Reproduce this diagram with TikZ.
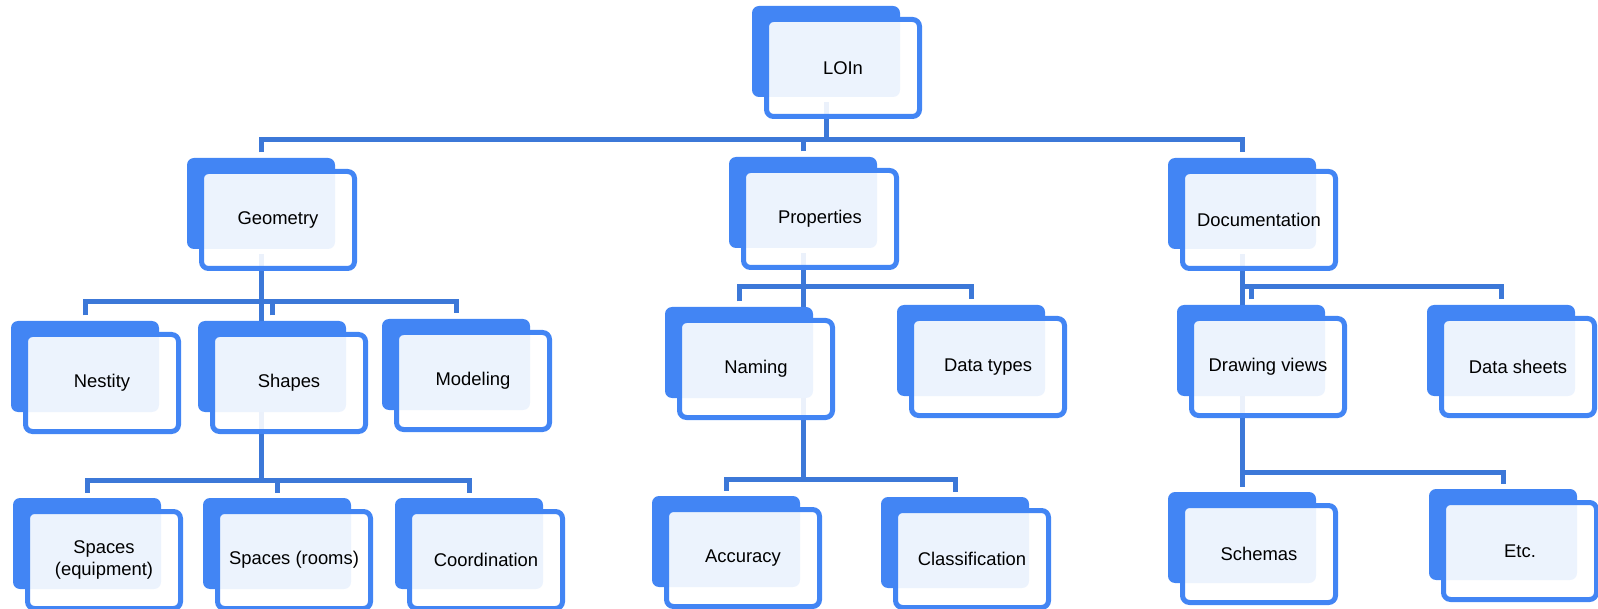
\documentclass[tikz,border=0pt]{standalone}
\usepackage{fontspec}
\setmainfont{Liberation Sans}
\usepackage{tikz}
\usetikzlibrary{calc}
\usepackage{xcolor}
\definecolor{boxblue}{HTML}{4285F4}
\definecolor{linkblue}{HTML}{3C78D8}
\pgfdeclarelayer{bg}
\pgfsetlayers{bg,main}
\tikzset{
  backbox/.style={fill=boxblue, rounded corners=7pt, minimum width=148pt, minimum height=91pt, outer sep=5.5pt, inner sep=0pt},
  frontbox/.style={draw=boxblue, line width=5pt, fill=white, fill opacity=0.9, text opacity=1, rounded corners=7pt, minimum width=153pt, minimum height=97pt, inner sep=0pt, align=center, font=\fontsize{18.4}{22}\selectfont},
  link/.style={draw=linkblue, line width=5pt}
}

\begin{document}
\begin{tikzpicture}[x=1pt, y=-1pt]
  \useasboundingbox (0,0) rectangle (1598,609);
  % Nodes
  \node[backbox] (loin-b) at (826, 51.5) {};
  \node[frontbox] (loin) at ($(loin-b)+(17,16.5)$) {LOIn};

  \node[backbox] (geo-b) at (261, 203.5) {};
  \node[frontbox] (geo) at ($(geo-b)+(17,16.5)$) {Geometry};
  \node[backbox] (prop-b) at (803, 202.5) {};
  \node[frontbox] (prop) at ($(prop-b)+(17,16.5)$) {Properties};
  \node[backbox] (doc-b) at (1242, 203.5) {};
  \node[frontbox] (doc) at ($(doc-b)+(17,16.5)$) {Documentation};

  \node[backbox] (nes-b) at (85, 366.5) {};
  \node[frontbox] (nes) at ($(nes-b)+(17,16.5)$) {Nestity};
  \node[backbox] (sha-b) at (272, 366.5) {};
  \node[frontbox] (sha) at ($(sha-b)+(17,16.5)$) {Shapes};
  \node[backbox] (mod-b) at (456, 364.5) {};
  \node[frontbox] (mod) at ($(mod-b)+(17,16.5)$) {Modeling};
  \node[backbox] (nam-b) at (739, 352.5) {};
  \node[frontbox] (nam) at ($(nam-b)+(17,16.5)$) {Naming};
  \node[backbox] (dat-b) at (971, 350.5) {};
  \node[frontbox] (dat) at ($(dat-b)+(17,16.5)$) {Data types};
  \node[backbox] (drw-b) at (1251, 350.5) {};
  \node[frontbox] (drw) at ($(drw-b)+(17,16.5)$) {Drawing views};
  \node[backbox] (dsh-b) at (1501, 350.5) {};
  \node[frontbox] (dsh) at ($(dsh-b)+(17,16.5)$) {Data sheets};

  \node[backbox] (spe-b) at (87, 543.5) {};
  \node[frontbox] (spe) at ($(spe-b)+(17,16.5)$) {Spaces\\(equipment)};
  \node[backbox] (spr-b) at (277, 543.5) {};
  \node[frontbox] (spr) at ($(spr-b)+(17,16.5)$) {Spaces (rooms)};
  \node[backbox] (coo-b) at (469, 543.5) {};
  \node[frontbox] (coo) at ($(coo-b)+(17,16.5)$) {Coordination};
  \node[backbox] (acc-b) at (726, 541.5) {};
  \node[frontbox] (acc) at ($(acc-b)+(17,16.5)$) {Accuracy};
  \node[backbox] (cla-b) at (955, 542.5) {};
  \node[frontbox] (cla) at ($(cla-b)+(17,16.5)$) {Classification};
  \node[backbox] (sch-b) at (1242, 537.5) {};
  \node[frontbox] (sch) at ($(sch-b)+(17,16.5)$) {Schemas};
  \node[backbox] (etc-b) at (1503, 534.5) {};
  \node[frontbox] (etc) at ($(etc-b)+(17,16.5)$) {Etc.};

  % Bar levels
  \coordinate (topbar) at (0,140);
  \coordinate (geobar) at (0,302);
  \coordinate (propbar) at (0,287);
  \coordinate (docbar) at (0,287);
  \coordinate (shabar) at (0,480);
  \coordinate (nambar) at (0,479);
  \coordinate (drwbar) at (0,472);

  % Connectors
  \begin{pgfonlayer}{bg}
    \draw[link] (loin-b.south) -- (loin-b.south |- topbar);
    \draw[link] (geo-b.north) |- (doc-b.north |- topbar) -- (doc-b.north);
    \draw[link] (prop-b.north) -- (prop-b.north |- topbar);

    \draw[link] (nes-b.north) |- (mod-b.north |- geobar) -- (mod-b.north);
    \draw[link] (sha-b.north) -- (sha-b.north |- geobar);
    \draw[link] (geo-b.south) -- (geo-b.south |- shabar);
    \draw[link] (spe-b.north) |- (coo-b.north |- shabar) -- (coo-b.north);
    \draw[link] (spr-b.north) -- (spr-b.north |- shabar);

    \draw[link] (nam-b.north) |- (dat-b.north |- propbar) -- (dat-b.north);
    \draw[link] (prop-b.south) -- (prop-b.south |- nambar);
    \draw[link] (acc-b.north) |- (cla-b.north |- nambar) -- (cla-b.north);

    \draw[link] (doc-b.south |- docbar) -| (dsh-b.north);
    \draw[link] (drw-b.north) -- (drw-b.north |- docbar);
    \draw[link] (doc-b.south) -- (sch-b.north);
    \draw[link] (sch-b.north |- drwbar) -| (etc-b.north);
  \end{pgfonlayer}
\end{tikzpicture}
\end{document}
